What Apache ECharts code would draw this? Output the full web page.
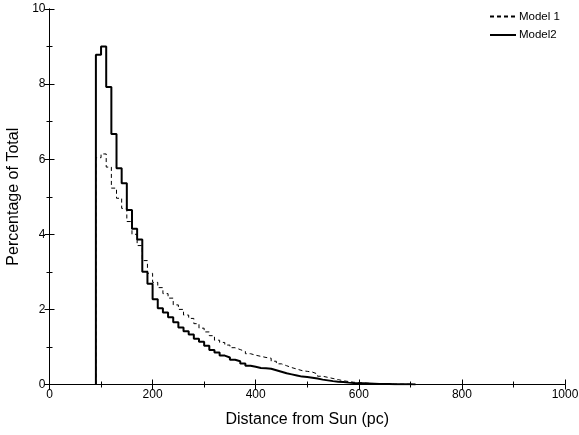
<!DOCTYPE html>
<html><head><meta charset="utf-8">
<script src="https://cdn.jsdelivr.net/npm/echarts@6/dist/echarts.min.js"></script>
<style>html,body{margin:0;padding:0;background:#fff}#c{width:579px;height:435px}</style>
</head><body><div id="c"></div>
<script>
// Bin left edges start at 90 pc, width 10 pc
var binStart = 90;
var binWidth = 10;
var model1 = [6.04,6.14,5.79,5.23,4.96,4.69,4.34,4.0,3.7,3.3,2.96,2.72,2.58,2.42,2.30,2.12,2.00,1.85,1.76,1.62,
  1.50,1.40,1.30,1.18,1.12,1.05,0.98,0.93,0.88,0.82,0.78,0.75,0.72,0.70,0.62,0.55,0.50,0.45,0.41,0.37,
  0.35,0.33,0.28,0.22,0.19,0.16,0.13,0.10,0.08,0.06,0.05,0.04,0.03,0.025,0.02,0.015,0.012,0.01,0.008,0.006,0.005,0.004];
var model2 = [8.78,9.00,7.92,6.67,5.76,5.36,4.65,4.15,3.86,3.00,2.68,2.27,2.03,1.92,1.79,1.66,1.52,1.42,1.33,1.22,
  1.14,1.03,0.92,0.85,0.77,0.72,0.66,0.62,0.56,0.50,0.47,0.44,0.43,0.42,0.38,0.34,0.30,0.27,0.24,0.21,
  0.20,0.18,0.16,0.13,0.11,0.09,0.075,0.065,0.05,0.04,0.035,0.03,0.025,0.02,0.015,0.012,0.01,0.008,0.006,0.005,0.004,0.003];
var xTicks = [0,200,400,600,800,1000];
var yTicks = [0,2,4,6,8,10];
var seriesNames = ['Model 1','Model2'];

function hist(vals){
  var pts = [[binStart,0]];
  for (var i=0;i<vals.length;i++) pts.push([binStart+i*binWidth, vals[i]]);
  pts.push([binStart+vals.length*binWidth, 0]);
  return pts;
}
var font = 'Liberation Sans, Arial, Helvetica, sans-serif';
var tickCommon = {inside:true, length:5, lineStyle:{color:'#000',width:1}};
var minorCommon = {show:true, splitNumber:2, length:3, lineStyle:{color:'#000',width:1}};
var chart = echarts.init(document.getElementById('c'), null, {renderer:'canvas'});
chart.setOption({
  animation:false,
  backgroundColor:'#fff',
  grid:{left:49.5, right:14, top:9, bottom:50.5, containLabel:false, outerBoundsMode:'none'},
  legend:{
    orient:'vertical', left:484, top:5.5, itemWidth:26, itemHeight:12, itemGap:6.5,
    itemStyle:{color:'rgba(0,0,0,0)', borderWidth:0, opacity:0},
    textStyle:{fontFamily:font, fontSize:11.5, color:'#000', padding:[0,0,0,-2]},
    data:seriesNames
  },
  xAxis:[{
    type:'value', min:xTicks[0], max:xTicks[xTicks.length-1], interval:200,
    axisLine:{lineStyle:{color:'#000',width:1}},
    axisTick:tickCommon, minorTick:minorCommon, splitLine:{show:false},
    axisLabel:{fontFamily:font, fontSize:12, color:'#000', margin:4,
      formatter:function(v){return xTicks.indexOf(v)>=0?String(v):'';}},
    name:'Distance from Sun (pc)', nameLocation:'middle', nameGap:27,
    nameTextStyle:{fontFamily:font, fontSize:16, color:'#000'}
  },{
    type:'value', position:'top', min:0, max:1000, interval:200,
    axisLine:{lineStyle:{color:'#000',width:1}},
    axisTick:tickCommon, minorTick:minorCommon, splitLine:{show:false}, axisLabel:{show:false}
  }],
  yAxis:[{
    type:'value', min:yTicks[0], max:yTicks[yTicks.length-1], interval:2,
    axisLine:{show:true, lineStyle:{color:'#000',width:1}},
    axisTick:tickCommon, minorTick:minorCommon, splitLine:{show:false},
    axisLabel:{fontFamily:font, fontSize:12, color:'#000', margin:4},
    name:'Percentage of Total', nameLocation:'middle', nameGap:26,
    nameTextStyle:{fontFamily:font, fontSize:16, color:'#000'}
  },{
    type:'value', position:'right', min:0, max:10, interval:2,
    axisLine:{show:true, lineStyle:{color:'#000',width:1}},
    axisTick:tickCommon, minorTick:minorCommon, splitLine:{show:false}, axisLabel:{show:false}
  }],
  series:[{
    name:seriesNames[0], type:'line', step:'end', data:hist(model1),
    showSymbol:false, symbol:'none', silent:true, color:'#000',
    lineStyle:{color:'#000', width:1, type:[4,3]}
  },{
    name:seriesNames[1], type:'line', step:'end', data:hist(model2),
    showSymbol:false, symbol:'none', silent:true, color:'#000',
    lineStyle:{color:'#000', width:2}
  }]
});
</script></body></html>
